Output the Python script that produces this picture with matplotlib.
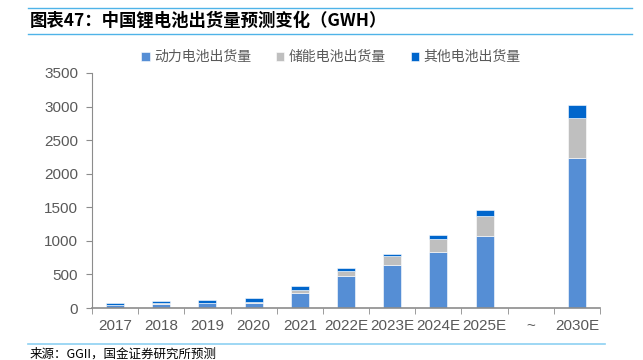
import matplotlib
matplotlib.use("Agg")
import matplotlib.pyplot as plt
import numpy as np
from matplotlib.lines import Line2D

plt.rcParams['font.family'] = ['Liberation Sans', 'Noto Sans CJK SC', 'DejaVu Sans']

# data (GWh)
years = ["2017", "2018", "2019", "2020", "2021", "2022E", "2023E", "2024E", "2025E", "~", "2030E"]
power = [44, 65, 71, 80, 226, 476, 640, 835, 1070, 0, 2235]
storage = [3, 5, 10, 16, 48, 75, 130, 190, 300, 0, 600]
other = [33, 32, 40, 48, 53, 45, 30, 58, 88, 0, 185]
labels = ["动力电池出货量", "储能电池出货量", "其他电池出货量"]
colors = ["#558ED5", "#BFBFBF", "#0066CC"]

W, H = 643, 360
fig = plt.figure(figsize=(W/100, H/100), dpi=100)
ax = fig.add_axes([92/W, 1-308/H, (600-92)/W, (308-73)/H])

x = np.arange(len(years))
bottom = np.zeros(len(years))
for vals, lab, c in zip([power, storage, other], labels, colors):
    vals = np.array(vals, dtype=float)
    ax.bar(x, vals, width=0.39, bottom=bottom, color=c, label=lab,
           edgecolor='white', linewidth=0.4)
    bottom += vals

gray = "#8C8C8C"
ax.set_xlim(-0.5, len(years)-0.5)
ax.set_ylim(0, 3500)
ax.set_yticks(np.arange(0, 3501, 500))
ax.set_xticks(x)
ax.set_xticklabels(years)
ax.set_xticks(np.arange(-0.5, len(years)), minor=True)
ax.tick_params(axis='x', which='major', length=0, pad=8, labelsize=11, labelcolor='#595959')
ax.tick_params(axis='x', which='minor', length=4, color=gray, direction='out')
ax.tick_params(axis='y', length=4, color=gray, labelsize=11, labelcolor='#595959', pad=6)
for s in ['top', 'right']:
    ax.spines[s].set_visible(False)
ax.spines['left'].set_color(gray)
ax.spines['bottom'].set_color(gray)
ax.spines['bottom'].set_linewidth(1.2)

ax.legend(loc='lower center', bbox_to_anchor=(0.47, 0.985), ncol=3, frameon=False,
          fontsize=10, handlelength=0.6, handleheight=0.6, handletextpad=0.3,
          columnspacing=1.8, labelcolor='#595959')

# header / footer
line_c = "#4FB3E8"
fig.add_artist(Line2D([28/W, 632/W], [1-8/H, 1-8/H], color=line_c, lw=1.0))
fig.add_artist(Line2D([28/W, 632/W], [1-34/H, 1-34/H], color=line_c, lw=1.0))
fig.text(30/W, 1-21/H, "图表47：中国锂电池出货量预测变化（GWH）", fontsize=12.5,
         fontweight='bold', style='italic', va='center', ha='left',
         family=['Noto Sans CJK SC', 'DejaVu Sans'])
fig.add_artist(Line2D([28/W, 605/W], [1-344/H, 1-344/H], color="#8DD1F2", lw=1.2))
fig.text(30/W, 1-354/H, "来源：GGII，国金证券研究所预测", fontsize=9, va='center', ha='left',
         family=['Noto Sans CJK SC', 'DejaVu Sans'])

fig.savefig("out.png", dpi=100)
